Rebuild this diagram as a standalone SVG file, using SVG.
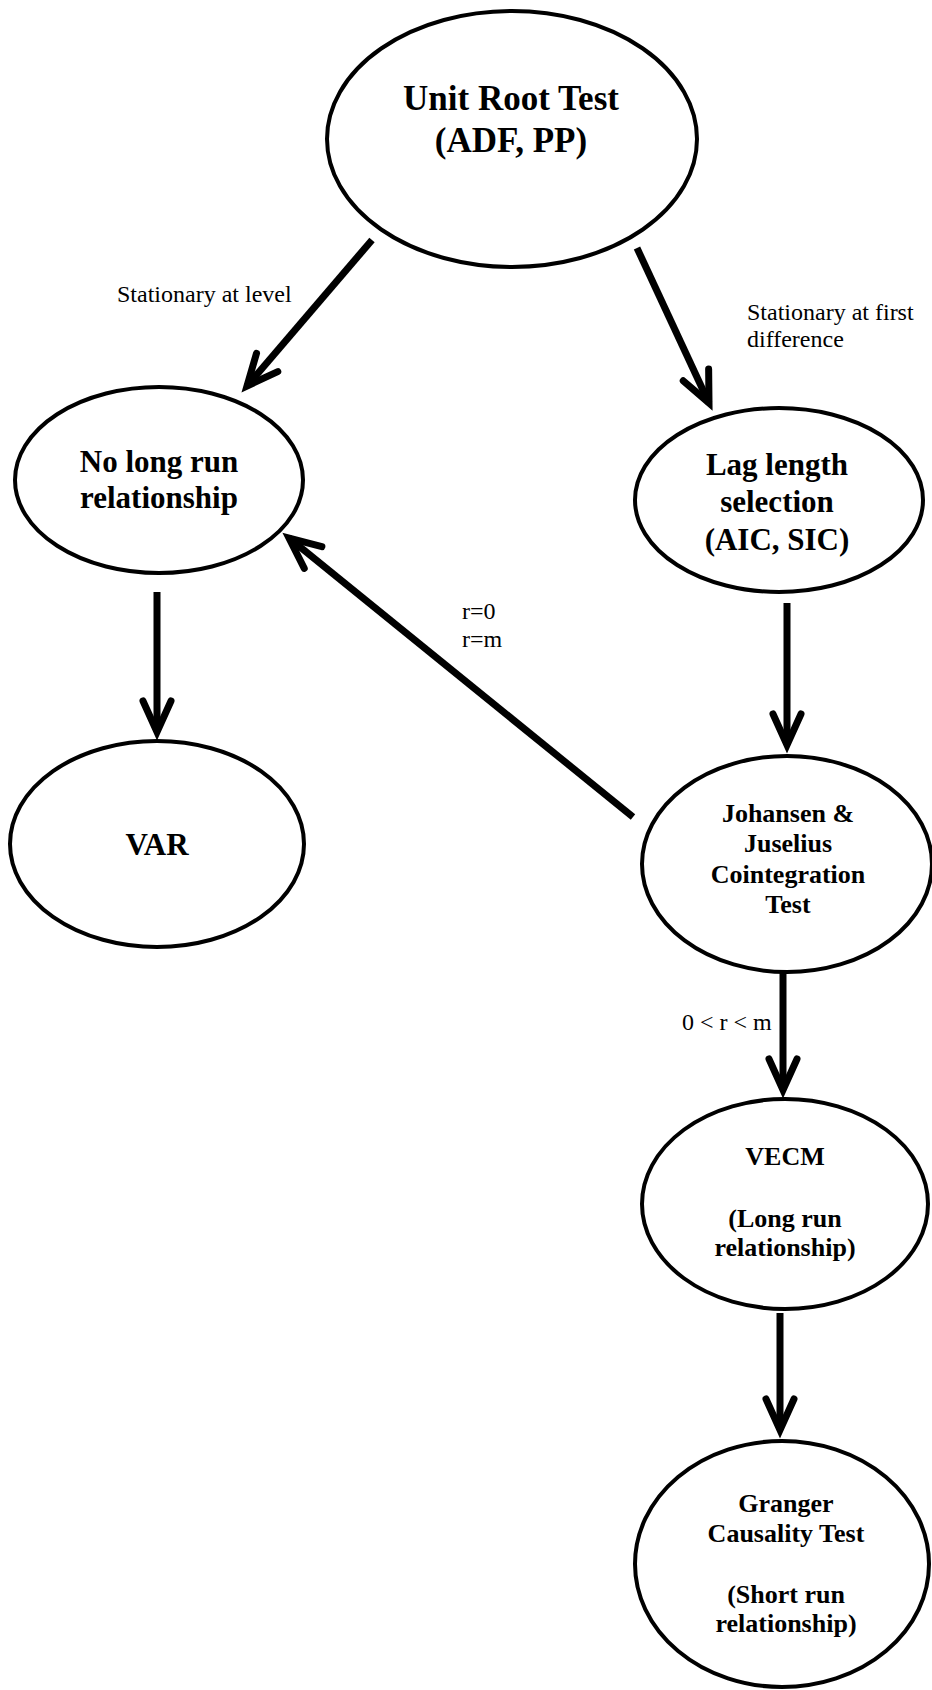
<svg xmlns="http://www.w3.org/2000/svg" width="932" height="1690" viewBox="0 0 932 1690">
<style>
.node{fill:#fff;stroke:#000;stroke-width:4}
.t{font-family:"Liberation Serif","Times New Roman",serif;font-weight:bold;fill:#000;text-anchor:middle}
.lbl{font-family:"Liberation Serif","Times New Roman",serif;font-size:24px;fill:#000}
.edge{fill:none;stroke:#000;stroke-width:7;stroke-linecap:butt}
</style>
<defs>
<marker id="ah" markerUnits="userSpaceOnUse" viewBox="-50 -50 100 100" markerWidth="100" markerHeight="100" refX="0" refY="0" orient="auto" overflow="visible">
<path d="M-31,-14 L0,0 L-31,14" fill="none" stroke="#000" stroke-width="7" stroke-linecap="round" stroke-linejoin="miter" stroke-miterlimit="10"/>
</marker>
</defs>
<rect width="932" height="1690" fill="#fff"/>
<g id="connectors">
<line class="edge" x1="372" y1="240" x2="247" y2="386" marker-end="url(#ah)"/>
<line class="edge" x1="637" y1="248" x2="709" y2="403" marker-end="url(#ah)"/>
<line class="edge" x1="157" y1="592" x2="157" y2="732" marker-end="url(#ah)"/>
<line class="edge" x1="787" y1="603" x2="787" y2="745" marker-end="url(#ah)"/>
<line class="edge" x1="633" y1="817" x2="289" y2="538" marker-end="url(#ah)"/>
<line class="edge" x1="783" y1="972" x2="783" y2="1090" marker-end="url(#ah)"/>
<line class="edge" x1="780" y1="1313" x2="780" y2="1430" marker-end="url(#ah)"/>
<text class="lbl" x="117" y="302">Stationary at level</text>
<text class="lbl" x="747" y="320">Stationary at first</text>
<text class="lbl" x="747" y="347">difference</text>
<text class="lbl" x="462" y="619">r=0</text>
<text class="lbl" x="462" y="647">r=m</text>
<text class="lbl" x="682" y="1030">0 &lt; r &lt; m</text>
</g>
<g id="unit-root">
<ellipse class="node" cx="512" cy="139" rx="185" ry="128"/>
<text class="t" font-size="35" x="511" y="110">Unit Root Test</text>
<text class="t" font-size="35" x="511" y="152">(ADF, PP)</text>
</g>
<g id="no-long-run">
<ellipse class="node" cx="159" cy="480" rx="144" ry="93"/>
<text class="t" font-size="31" x="159" y="472">No long run</text>
<text class="t" font-size="31" x="159" y="508">relationship</text>
</g>
<g id="lag-length">
<ellipse class="node" cx="779" cy="500" rx="144" ry="92"/>
<text class="t" font-size="31" x="777" y="475">Lag length</text>
<text class="t" font-size="31" x="777" y="512">selection</text>
<text class="t" font-size="31" x="777" y="550">(AIC, SIC)</text>
</g>
<g id="var">
<ellipse class="node" cx="157" cy="844" rx="147" ry="103"/>
<text class="t" font-size="31" x="157" y="855">VAR</text>
</g>
<g id="johansen">
<ellipse class="node" cx="787" cy="864" rx="145" ry="108"/>
<text class="t" font-size="26" x="788" y="822">Johansen &amp;</text>
<text class="t" font-size="26" x="788" y="852">Juselius</text>
<text class="t" font-size="26" x="788" y="883">Cointegration</text>
<text class="t" font-size="26" x="788" y="913">Test</text>
</g>
<g id="vecm">
<ellipse class="node" cx="785" cy="1204" rx="143" ry="105"/>
<text class="t" font-size="26" x="785" y="1165">VECM</text>
<text class="t" font-size="26" x="785" y="1227">(Long run</text>
<text class="t" font-size="26" x="785" y="1256">relationship)</text>
</g>
<g id="granger">
<ellipse class="node" cx="782" cy="1564" rx="147" ry="123"/>
<text class="t" font-size="26" x="786" y="1512">Granger</text>
<text class="t" font-size="26" x="786" y="1542">Causality Test</text>
<text class="t" font-size="26" x="786" y="1603">(Short run</text>
<text class="t" font-size="26" x="786" y="1632">relationship)</text>
</g>
</svg>
